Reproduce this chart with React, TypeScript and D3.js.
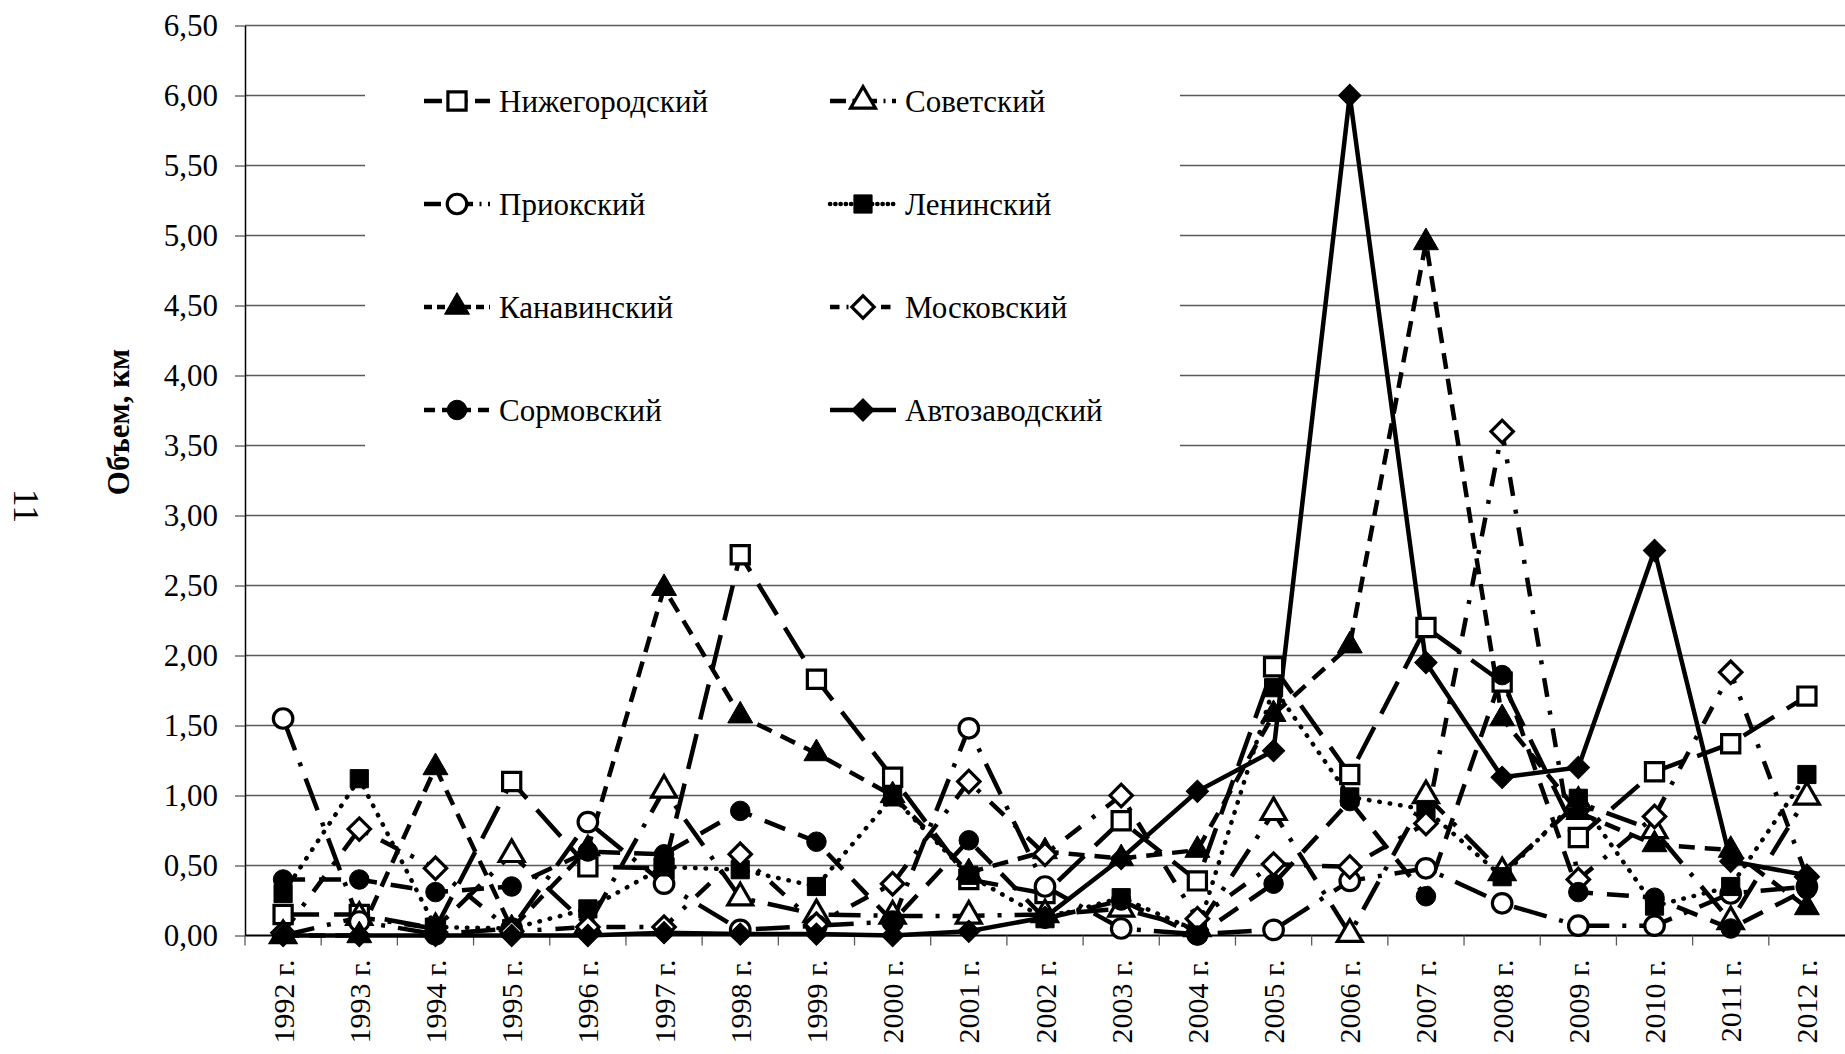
import React, { useEffect, useRef } from "react";
import * as d3 from "d3";

// categories and tick labels
const years = [
  "1992", "1993", "1994", "1995", "1996", "1997", "1998", "1999", "2000", "2001",
  "2002", "2003", "2004", "2005", "2006", "2007", "2008", "2009", "2010", "2011", "2012",
];
const yTicks = [0, 0.5, 1, 1.5, 2, 2.5, 3, 3.5, 4, 4.5, 5, 5.5, 6, 6.5];

// series values
const nizhegorodsky = [0.15, 0.15, 0.05, 1.1, 0.49, 0.48, 2.72, 1.83, 1.13, 0.4, 0.3, 0.82, 0.39, 1.92, 1.15, 2.2, 1.81, 0.7, 1.17, 1.37, 1.71];
const sovetsky = [0.0, 0.13, 0.05, 0.58, 0.07, 1.04, 0.27, 0.15, 0.14, 0.14, 0.15, 0.19, 0.05, 0.88, 0.01, 1.0, 0.45, 0.95, 0.75, 0.1, 0.99];
const priroksky = [1.55, 0.1, 0.01, 0.05, 0.81, 0.37, 0.04, 0.07, 0.1, 1.48, 0.35, 0.05, 0.01, 0.04, 0.39, 0.48, 0.23, 0.07, 0.07, 0.3, 0.35];
const leninsky = [0.3, 1.12, 0.06, 0.05, 0.19, 0.49, 0.47, 0.35, 0.99, 0.43, 0.12, 0.27, 0.03, 1.77, 0.99, 0.9, 0.42, 0.98, 0.21, 0.35, 1.15];
const kanavinsky = [0.0, 0.0, 1.2, 0.05, 0.62, 2.48, 1.57, 1.3, 1.0, 0.45, 0.6, 0.55, 0.61, 1.58, 2.07, 4.95, 1.55, 0.88, 0.65, 0.61, 0.2];
const moskovsky = [0.02, 0.76, 0.48, 0.03, 0.06, 0.06, 0.58, 0.08, 0.37, 1.1, 0.58, 1.0, 0.12, 0.51, 0.49, 0.8, 3.6, 0.4, 0.85, 1.88, 0.42];
const sormovsky = [0.4, 0.4, 0.31, 0.35, 0.6, 0.58, 0.89, 0.67, 0.1, 0.68, 0.12, 0.25, 0.0, 0.37, 0.96, 0.28, 1.86, 0.31, 0.27, 0.05, 0.33];
const avtozavodsky = [0, 0, 0, 0, 0, 0.02, 0.01, 0.01, 0.0, 0.03, 0.13, 0.55, 1.03, 1.32, 6.0, 1.95, 1.13, 1.2, 2.75, 0.53, 0.43];

const seriesList = [
  { name: "Нижегородский", values: nizhegorodsky, dash: "36,15", cap: "butt", marker: "square", filled: false },
  { name: "Советский", values: sovetsky, dash: "32,13,4,13", cap: "butt", marker: "triangle", filled: false },
  { name: "Приокский", values: priroksky, dash: "34,13,4,13", cap: "butt", marker: "circle", filled: false },
  { name: "Ленинский", values: leninsky, dash: "0.5,10", cap: "round", marker: "square", filled: true },
  { name: "Канавинский", values: kanavinsky, dash: "16,10", cap: "butt", marker: "triangle", filled: true },
  { name: "Московский", values: moskovsky, dash: "19,14,4,14", cap: "butt", marker: "diamond", filled: false },
  { name: "Сормовский", values: sormovsky, dash: "22,14", cap: "butt", marker: "circle", filled: true },
  { name: "Автозаводский", values: avtozavodsky, dash: "none", cap: "butt", marker: "diamond", filled: true },
];

const FONT = "'Liberation Serif', 'Times New Roman', serif";

const symbolFor = (m: string) => {
  if (m === "square") return d3.symbol().type(d3.symbolSquare).size(330)();
  if (m === "circle") return d3.symbol().type(d3.symbolCircle).size(300)();
  if (m === "triangle") return d3.symbol().type(d3.symbolTriangle).size(270)();
  return d3.symbol().type(d3.symbolSquare).size(250)();
};

const drawChart = (el: SVGSVGElement) => {
  const svg = d3.select(el);
  svg.selectAll("*").remove();

  const x = d3.scaleBand().domain(years).range([245, 1845]);
  const y = d3.scaleLinear().domain([0, 6.5]).range([935.5, 25.5]);
  const bw = x.bandwidth();
  const cx = (i: number) => (x(years[i]) || 0) + bw / 2;

  // gridlines
  svg
    .append("g")
    .selectAll("line")
    .data(yTicks.filter((t) => t > 0))
    .join("line")
    .attr("x1", 245)
    .attr("x2", 1845)
    .attr("y1", (d) => y(d))
    .attr("y2", (d) => y(d))
    .attr("stroke", "#5a5a5a")
    .attr("stroke-width", 1.3);

  // y axis
  const yAxis = svg
    .append("g")
    .attr("transform", "translate(245,0)")
    .call(
      d3
        .axisLeft(y)
        .tickValues(yTicks)
        .tickSize(10)
        .tickSizeOuter(0)
        .tickPadding(17)
        .tickFormat((d) => d3.format(".2f")(d as number).replace(".", ","))
    );
  yAxis.select(".domain").attr("stroke", "#000").attr("stroke-width", 1.5);
  yAxis.selectAll(".tick line").attr("stroke", "#5a5a5a").attr("stroke-width", 1.3);
  yAxis
    .selectAll("text")
    .attr("font-family", FONT)
    .attr("font-size", 31)
    .attr("fill", "#000");

  // x axis line + boundary ticks
  svg
    .append("line")
    .attr("x1", 245)
    .attr("x2", 1845)
    .attr("y1", y(0))
    .attr("y2", y(0))
    .attr("stroke", "#000")
    .attr("stroke-width", 1.8);
  svg
    .append("g")
    .selectAll("line")
    .data(years.map((d) => x(d) || 0))
    .join("line")
    .attr("x1", (d) => d)
    .attr("x2", (d) => d)
    .attr("y1", y(0))
    .attr("y2", y(0) + 10)
    .attr("stroke", "#5a5a5a")
    .attr("stroke-width", 1.3);

  // x labels, rotated
  svg
    .append("g")
    .selectAll("text")
    .data(years)
    .join("text")
    .attr("transform", (d) => `translate(${(x(d) || 0) + bw / 2},${y(0) + 24}) rotate(-90)`)
    .attr("text-anchor", "end")
    .attr("dy", "0.35em")
    .attr("font-family", FONT)
    .attr("font-size", 30)
    .text((d) => `${d} г.`);

  // titles
  svg
    .append("text")
    .attr("transform", "translate(118,422) rotate(-90)")
    .attr("text-anchor", "middle")
    .attr("dy", "0.35em")
    .attr("font-family", FONT)
    .attr("font-weight", "bold")
    .attr("font-size", 31)
    .text("Объем, км");
  svg
    .append("text")
    .attr("transform", "translate(27,506) rotate(90)")
    .attr("text-anchor", "middle")
    .attr("dy", "0.35em")
    .attr("font-family", FONT)
    .attr("font-size", 36)
    .text("11");

  // lines
  const line = d3
    .line<number>()
    .x((_, i) => cx(i))
    .y((v) => y(v));

  seriesList.forEach((s) => {
    svg
      .append("path")
      .datum(s.values)
      .attr("d", line)
      .attr("fill", "none")
      .attr("stroke", "#000")
      .attr("stroke-width", 4.5)
      .attr("stroke-linecap", s.cap)
      .attr("stroke-dasharray", s.dash);
  });

  seriesList.forEach((s) => {
    svg
      .append("g")
      .selectAll("path")
      .data(s.values)
      .join("path")
      .attr("d", symbolFor(s.marker))
      .attr(
        "transform",
        (v, i) => `translate(${cx(i)},${y(v)})${s.marker === "diamond" ? " rotate(45)" : ""}`
      )
      .attr("fill", s.filled ? "#000" : "#fff")
      .attr("stroke", "#000")
      .attr("stroke-width", s.filled ? 1 : 3.2);
  });

  // legend
  const legend = svg.append("g");
  legend
    .append("rect")
    .attr("x", 365)
    .attr("y", 50)
    .attr("width", 815)
    .attr("height", 420)
    .attr("fill", "#fff");

  const rowY = [101, 204, 307, 410];
  const colX = [424, 830];
  seriesList.forEach((s, k) => {
    const col = k % 2;
    const row = Math.floor(k / 2);
    const x0 = colX[col];
    const yy = rowY[row];
    legend
      .append("line")
      .attr("x1", x0)
      .attr("x2", x0 + 66)
      .attr("y1", yy)
      .attr("y2", yy)
      .attr("stroke", "#000")
      .attr("stroke-width", 4.5)
      .attr("stroke-linecap", s.cap)
      .attr("stroke-dasharray", s.dash === "none" ? "none" : s.dash.split(",").map((n) => +n * 0.5).join(","));
    legend
      .append("path")
      .attr("d", symbolFor(s.marker))
      .attr("transform", `translate(${x0 + 33},${yy})${s.marker === "diamond" ? " rotate(45)" : ""}`)
      .attr("fill", s.filled ? "#000" : "#fff")
      .attr("stroke", "#000")
      .attr("stroke-width", s.filled ? 1 : 3.2);
    legend
      .append("text")
      .attr("x", x0 + 75)
      .attr("y", yy)
      .attr("dy", "0.35em")
      .attr("font-family", FONT)
      .attr("font-size", 31)
      .text(s.name);
  });
};

const App = () => {
  const ref = useRef<SVGSVGElement>(null);
  useEffect(() => {
    if (ref.current) drawChart(ref.current);
  }, []);
  return (
    <svg
      ref={ref}
      width={1845}
      height={1054}
      style={{ position: "absolute", left: 0, top: 0, background: "#fff", display: "block" }}
    ></svg>
  );
};

export default App;
